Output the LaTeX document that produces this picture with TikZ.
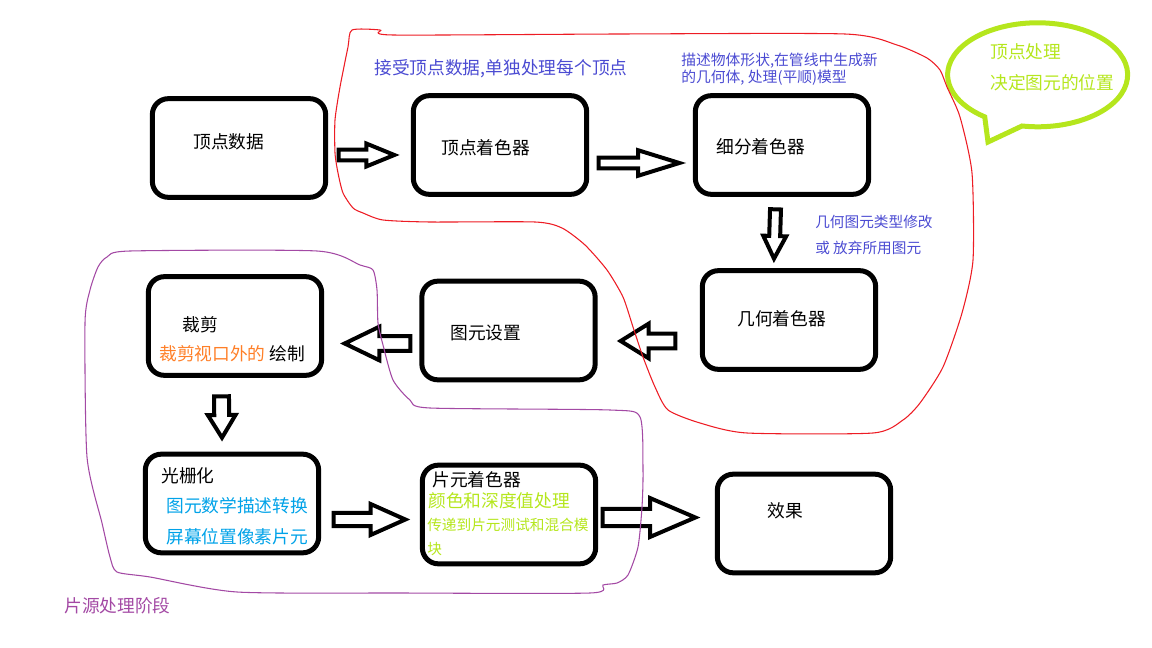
\documentclass[tikz,border=0pt]{standalone}
\usepackage{fontspec}
\setmainfont{Noto Sans CJK SC}
\usetikzlibrary{calc}
\definecolor{paintred}{HTML}{ED1C24}
\definecolor{paintpurple}{HTML}{A349A4}
\definecolor{paintlime}{HTML}{B5E61D}
\definecolor{paintorange}{HTML}{FF7F27}
\definecolor{paintcyan}{HTML}{00A2E8}
\definecolor{noteblue}{HTML}{4B4BD2}
\tikzset{
  box/.style={draw,line width=3.75pt,rounded corners=12pt,minimum width=130pt,minimum height=74pt,inner sep=0pt},
  txt/.style={anchor=west,inner sep=0pt,font=\fontsize{13.3pt}{16pt}\selectfont},
  note/.style={txt,text=noteblue},
  mini/.style={font=\fontsize{11pt}{13pt}\selectfont},
  fine/.style={font=\fontsize{11.1pt}{13pt}\selectfont},
  fat/.style n args={3}{draw,line width=3pt,fill=white,
    to path={($(\tikztostart)!#1!90:(\tikztotarget)$)
      -- ($(\tikztotarget)!#3!(\tikztostart)!#1!90:(\tikztotarget)$)
      -- ($(\tikztotarget)!#3!(\tikztostart)!#2!90:(\tikztotarget)$)
      -- (\tikztotarget)
      -- ($(\tikztotarget)!#3!(\tikztostart)!#2!-90:(\tikztotarget)$)
      -- ($(\tikztotarget)!#3!(\tikztostart)!#1!-90:(\tikztotarget)$)
      -- ($(\tikztostart)!#1!-90:(\tikztotarget)$) -- cycle}}
}
\begin{document}
\begin{tikzpicture}[x=0.75pt,y=-0.75pt]
\useasboundingbox (0,0) rectangle (1152,648);
\foreach \nm/\x/\y in {vdata/239/148,vshader/500/145,tshader/782/145,gshader/789/320,setup/508.5/330.5,clip/235/326,raster/232/503.5,fshader/509/514.5,result/804/523.5}
  \node[box] (\nm) at (\x,\y) {};
\coordinate (a1-s) at ($(vdata.east)+(10.5,7)$);
\coordinate (a1-t) at ($(vshader.west)+(-16.5,10)$);
\coordinate (a2-s) at ($(vshader.east)+(9.5,18)$);
\coordinate (a2-t) at ($(tshader.west)+(-13.5,18)$);
\coordinate (a3-s) at ($(tshader.south)+(-6.5,12.5)$);
\coordinate (a3-t) at ($(gshader.north)+(-15,-9.5)$);
\coordinate (a4-s) at ($(gshader.west)+(-24.5,21)$);
\coordinate (a4-t) at ($(setup.east)+(23,10.5)$);
\coordinate (a5-s) at ($(setup.west)+(-9,13)$);
\coordinate (a5-t) at ($(clip.east)+(20.5,17.5)$);
\coordinate (a6-s) at ($(clip.south)+(-13.5,18.5)$);
\coordinate (a6-t) at ($(raster.north)+(-10,-14)$);
\coordinate (a7-s) at ($(raster.east)+(12.5,16)$);
\coordinate (a7-t) at ($(fshader.west)+(-14.5,5)$);
\coordinate (a8-s) at ($(fshader.east)+(4.5,3)$);
\coordinate (a8-t) at ($(result.west)+(-19.5,-6)$);
\foreach \s/\a/\b/\c in {a1/4.1pt/8.6pt/21pt,a2/4.1pt/9.6pt/31pt,a3/4.1pt/8.6pt/17pt,a4/5.6pt/13pt/21pt,a5/5.6pt/12.6pt/26pt,a6/5.6pt/10.4pt/17pt,a7/4.9pt/11.6pt/26pt,a8/6.4pt/14.6pt/34pt}
  \draw[fat={\a}{\b}{\c}] (\s-s) to (\s-t);
\node[txt] (l-vdata) at (193,142) {顶点数据};
\node[txt] (l-vshader) at (441,148) {顶点着色器};
\node[txt] (l-tshader) at (716,147) {细分着色器};
\node[txt] (l-gshader) at (737,319) {几何着色器};
\node[txt] (l-setup) at (450,333) {图元设置};
\node[txt] (l-clip) at (182,325) {裁剪};
\node[txt] (l-clipnote) at (159,354) {\textcolor{paintorange}{裁剪视口外的} 绘制};
\node[txt] (l-raster) at (161,476) {光栅化};
\node[txt,text=paintcyan] (l-rasternote1) at (166,506) {图元数学描述转换};
\node[txt,text=paintcyan] (l-rasternote2) at (166,537) {屏幕位置像素片元};
\node[txt] (l-fshader) at (432,480) {片元着色器};
\node[txt,text=paintlime] (l-fnote1) at (428,501) {颜色和深度值处理};
\node[txt,mini,text=paintlime] (l-fnote2) at (427,525) {传递到片元测试和混合模};
\node[txt,mini,text=paintlime] (l-fnote3) at (427,549) {块};
\node[txt] (l-result) at (767,511) {效果};
\node[note] (n-vertex) at (374,69) {接受顶点数据,单独处理每个顶点};
\node[note,fine] (n-tess1) at (681,61) {描述物体形状,在管线中生成新};
\node[note,fine] (n-tess2) at (681,78) {的几何体, 处理(平顺)模型};
\node[note,mini] (n-geo1) at (815,222) {几何图元类型修改};
\node[note,mini] (n-geo2) at (815,248) {或 放弃所用图元};
\node[txt,text=paintpurple] (n-frag) at (64,606) {片源处理阶段};
\node[txt,text=paintlime] (n-bubble1) at (990,52) {顶点处理};
\node[txt,text=paintlime] (n-bubble2) at (990,83) {决定图元的位置};
\draw[paintlime,line width=3.75pt] (1022,126) arc[start angle=100,end angle=-234,x radius=90,y radius=52] -- (988,142) -- cycle;
\draw[paintred,line width=0.8pt] plot[smooth cycle,tension=0.4] coordinates {(352,30) (380,30) (393,35) (620,34) (845,34) (897,45) (927,58) (940,70) (947,87) (960,117) (972,173) (973,260) (962,313) (943,367) (920,403) (903,420) (873,433) (747,433) (700,423) (668,410) (655,387) (643,357) (633,327) (623,297) (607,270) (585,245) (562,228) (535,222) (430,222) (383,220) (363,213) (353,208) (343,193) (338,173) (335,153) (335,120) (340,87) (348,47)};
\draw[paintpurple,line width=0.8pt] plot[smooth cycle,tension=0.4] coordinates {(107,257) (130,251) (317,251) (360,265) (373,270) (377,290) (378,323) (383,345) (393,380) (410,400) (430,408) (610,410) (640,417) (643,470) (642,507) (638,547) (628,575) (617,583) (603,585) (590,593) (400,593) (237,592) (150,577) (117,572) (110,557) (102,523) (87,457) (85,323) (90,290) (98,267)};
\end{tikzpicture}
\end{document}
